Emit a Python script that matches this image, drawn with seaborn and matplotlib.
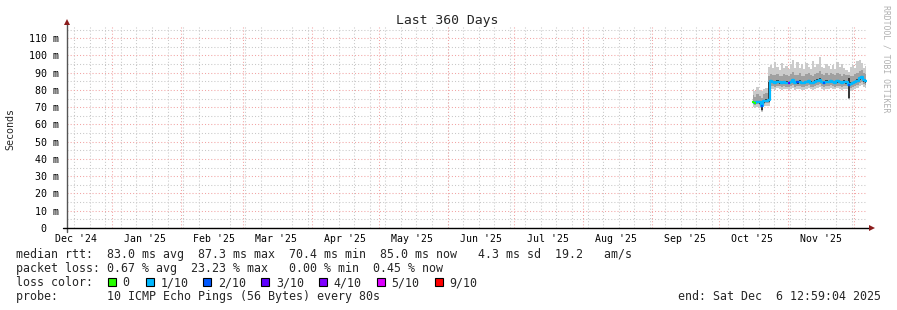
import numpy as np
import pandas as pd
import matplotlib
matplotlib.use("Agg")
import matplotlib.pyplot as plt
import matplotlib.dates as mdates
from matplotlib.ticker import MultipleLocator, FuncFormatter
from matplotlib.patches import Rectangle
import seaborn as sns

# ---------------- data ----------------
dates = pd.date_range("2025-10-16 12:00", periods=52, freq="D")

ping_min = [70.2, 69.8, 70.4, 69.6, 67.5, 70.5, 70.9, 70.5,
            80.8, 80.7, 80.2, 80.9, 80.4, 80.1, 80.6, 80.3,
            80.0, 80.4, 81.3, 80.2, 80.5, 80.8, 80.1, 79.9, 80.5, 81.1,
            80.3, 80.0, 80.7, 81.2, 81.5, 80.6, 80.2, 80.8, 80.5, 81.0,
            80.7, 80.3, 80.9, 80.6, 80.1, 80.7, 80.4, 74.6, 79.5, 80.0,
            80.5, 81.2, 82.4, 83.0, 81.5, 81.0]
ping_p20 = [71.6, 71.2, 71.8, 71.3, 68.0, 71.9, 72.3, 72.4,
            82.6, 82.4, 81.9, 82.5, 82.1, 81.8, 82.3, 82.0,
            81.7, 82.2, 83.0, 81.9, 82.1, 82.5, 81.8, 81.6, 82.2, 82.8,
            82.0, 81.7, 82.4, 82.9, 83.3, 82.3, 81.9, 82.5, 82.2, 82.7,
            82.4, 82.0, 82.6, 82.3, 81.8, 82.4, 82.1, 75.0, 81.2, 81.6,
            82.2, 82.9, 84.2, 84.8, 83.2, 82.7]
ping_p40 = [72.3, 71.9, 72.5, 72.1, 68.4, 72.7, 73.1, 73.2,
            84.2, 83.9, 83.5, 84.1, 83.7, 83.3, 83.9, 83.6,
            83.3, 83.8, 84.8, 83.5, 83.7, 84.2, 83.4, 83.2, 83.9, 84.5,
            83.6, 83.3, 84.1, 84.7, 85.2, 83.9, 83.5, 84.2, 83.8, 84.4,
            84.0, 83.6, 84.3, 83.9, 83.4, 84.1, 83.7, 75.4, 82.9, 83.2,
            83.8, 84.6, 86.0, 86.5, 84.9, 84.3]
median_rtt = [73.0, 72.6, 73.2, 72.8, 70.6, 73.4, 73.8, 74.0,
              85.0, 84.6, 84.2, 84.8, 84.4, 84.0, 84.6, 84.3,
              84.0, 84.5, 85.6, 84.2, 84.4, 84.9, 84.1, 83.9, 84.6, 85.2,
              84.3, 84.0, 84.8, 85.4, 85.9, 84.6, 84.2, 84.9, 84.5, 85.1,
              84.7, 84.3, 85.0, 84.6, 84.1, 84.8, 84.4, 82.8, 83.6, 83.9,
              84.5, 85.3, 86.8, 87.3, 85.6, 85.0]
ping_p60 = [73.7, 73.3, 73.9, 73.5, 72.2, 74.1, 74.5, 84.5,
            85.8, 85.4, 85.0, 85.6, 85.2, 84.8, 85.4, 85.1,
            84.8, 85.3, 86.4, 85.0, 85.2, 85.7, 84.9, 84.7, 85.4, 86.0,
            85.1, 84.8, 85.6, 86.2, 86.7, 85.4, 85.0, 85.7, 85.3, 85.9,
            85.5, 85.1, 85.8, 85.4, 84.9, 85.6, 85.2, 86.9, 84.4, 84.7,
            85.3, 86.1, 87.6, 88.1, 86.4, 85.8]
ping_p80 = [77.0, 76.2, 77.5, 76.8, 75.5, 77.8, 78.2, 88.0,
            89.2, 88.6, 88.9, 89.5, 88.4, 88.1, 89.0, 88.7,
            88.3, 89.1, 90.4, 88.6, 88.9, 89.6, 88.4, 88.2, 89.3, 90.0,
            88.7, 88.2, 89.4, 90.1, 91.0, 89.0, 88.5, 89.6, 88.9, 89.8,
            89.2, 88.6, 89.7, 89.1, 88.3, 89.4, 88.8, 88.5, 88.0, 88.4,
            89.1, 90.0, 91.2, 91.8, 89.9, 89.2]
ping_max = [80.5, 79.2, 81.6, 80.0, 79.4, 80.8, 81.2, 93.5,
            94.5, 92.8, 96.0, 93.2, 91.8, 95.4, 92.6, 94.1,
            92.4, 95.0, 97.3, 93.0, 96.2, 92.7, 94.8, 91.9, 95.6, 93.4,
            92.2, 96.8, 93.5, 94.9, 99.0, 93.1, 92.6, 95.3, 93.9, 92.4,
            94.7, 92.0, 96.4, 93.3, 95.1, 92.8, 91.6, 90.2, 93.5, 94.6,
            92.9, 96.8, 97.2, 95.4, 93.0, 94.2]
loss = [0, 0, 0.2, 0.3, 1.5, 0.4, 0.2, 0.6,
        0.3, 0.5, 0.2, 0.4, 0.3, 0.6, 0.2, 0.4,
        2.6, 0.5, 0.3, 0.4, 1.4, 0.2, 0.5, 0.3, 0.4, 0.6,
        0.3, 0.2, 0.5, 0.4, 0.3, 0.6, 1.3, 0.4, 0.2, 0.5,
        0.3, 0.4, 0.2, 0.5, 0.3, 0.6, 0.4, 1.8, 0.5, 0.3,
        0.4, 0.2, 0.5, 0.3, 0.4, 0.5]

loss_labels = ["0", "1/10", "2/10", "3/10", "4/10", "5/10", "9/10"]
loss_limits = [0, 1, 2, 3, 4, 5, 10]
loss_colors = ["#26ff00", "#00b8ff", "#0059ff", "#5e00ff", "#7e00ff", "#dd00ff", "#ff0000"]

stats_rtt = "median rtt:  83.0 ms avg  87.3 ms max  70.4 ms min  85.0 ms now   4.3 ms sd  19.2   am/s"
stats_loss = "packet loss: 0.67 % avg  23.23 % max   0.00 % min  0.45 % now"
probe_text = "probe:       10 ICMP Echo Pings (56 Bytes) every 80s"
end_text = "end: Sat Dec  6 12:59:04 2025"
title = "Last 360 Days"

t_start = pd.Timestamp("2024-12-11 12:59:04")
t_end = pd.Timestamp("2025-12-06 12:59:04")

# ---------------- figure ----------------
sns.set_theme(style="white")
plt.rcParams['font.family'] = ['DejaVu Sans Mono', 'DejaVu Sans']

W, H = 897, 310
fig = plt.figure(figsize=(W / 100, H / 100), dpi=100)
fig.patch.set_facecolor("white")
ax = fig.add_axes([66.5 / W, (H - 228) / H, 800 / W, 202 / H])
ax.set_facecolor("white")
ax.set_xlim(t_start, t_end)
ax.set_ylim(0, 117.1)

for s in ax.spines.values():
    s.set_visible(False)

# grid
grid_gray = "#c8c8c8"
grid_red = "#f2a4a4"
dots = (0, (1, 2))
ax.yaxis.set_major_locator(MultipleLocator(10))
ax.yaxis.set_minor_locator(MultipleLocator(5))
ax.xaxis.set_major_locator(mdates.MonthLocator(bymonthday=16))
ax.xaxis.set_major_formatter(mdates.DateFormatter("%b '%y"))
ax.xaxis.set_minor_locator(mdates.WeekdayLocator(byweekday=mdates.SU))
ax.set_axisbelow(True)
ax.grid(which="minor", axis="both", color=grid_gray, ls=dots, lw=0.75)
ax.grid(which="major", axis="y", color=grid_red, ls=dots, lw=0.75)
ax.xaxis.grid(False, which="major")
month_starts = pd.date_range("2025-01-01", "2025-12-01", freq="MS")
ax.vlines(month_starts, 0, 117.1, colors=grid_red, linestyles=dots, lw=0.75, zorder=0.6)

ax.yaxis.set_major_formatter(FuncFormatter(lambda v, p: "0  " if v == 0 else f"{int(v)} m"))
ax.tick_params(axis="y", which="both", length=0, pad=5.5, labelsize=7.2, colors="black")
ax.tick_params(axis="x", which="both", length=0, pad=4.0, labelsize=7.1, colors="black")

# smoke
ax.fill_between(dates, ping_min, ping_max, step="mid", color="#cbcbcb", lw=0, zorder=2)
ax.fill_between(dates, ping_p20, ping_p80, step="mid", color="#a0a0a0", lw=0, zorder=2.1)
ax.fill_between(dates, ping_p40, ping_p60, step="mid", color="#383838", lw=0, zorder=2.2)

# median line coloured by loss
sns.lineplot(x=dates, y=median_rtt, ax=ax, color="#00b8ff", lw=1.6,
             drawstyle="steps-mid", zorder=3, legend=False)
half = pd.Timedelta(hours=12)
for d, m, l in zip(dates, median_rtt, loss):
    idx = next(i for i, lim in enumerate(loss_limits) if l <= lim)
    ax.plot([d - half, d + half], [m, m], color=loss_colors[idx], lw=1.6,
            solid_capstyle="butt", zorder=3.1)
ax.set_xlabel("")
ax.set_ylabel("")

# axes lines with arrows
px, py = 1 / 800, 1 / 202
ax.plot([0, 0], [-4 * py, 1 + 2 * py], transform=ax.transAxes, color="#555555",
        lw=1.0, clip_on=False, zorder=5)
ax.plot([-4 * px, 1 + 3 * px], [0, 0], transform=ax.transAxes, color="black",
        lw=1.0, clip_on=False, zorder=5)
ax.plot([0], [1 + 4 * py], marker="^", ms=4.5, color="#8b1c1c", transform=ax.transAxes,
        clip_on=False, zorder=6, mew=0)
ax.plot([1 + 5 * px], [0], marker=">", ms=4.5, color="#8b1c1c", transform=ax.transAxes,
        clip_on=False, zorder=6, mew=0)

# texts
fig.text(447.5 / W, 1 - 24 / H, title, ha="center", va="baseline", fontsize=9.45)
fig.text(10.5 / W, 1 - 129 / H, "Seconds", rotation=90, ha="center", va="center", fontsize=7.2)
fig.text(886 / W, 1 - 5 / H, "RRDTOOL / TOBI OETIKER", rotation=270, ha="center", va="top",
         fontsize=5.9, color="#b0b0b0")

fs = 8.4
fig.text(16 / W, 1 - 258 / H, stats_rtt, ha="left", va="baseline", fontsize=fs)
fig.text(16 / W, 1 - 272 / H, stats_loss, ha="left", va="baseline", fontsize=fs)
fig.text(16 / W, 1 - 286 / H, "loss color:", ha="left", va="baseline", fontsize=fs)
box_x = [108, 145.7, 203.3, 261.3, 319.3, 377, 435]
for bx, lab, col in zip(box_x, loss_labels, loss_colors):
    fig.add_artist(Rectangle((bx / W, 1 - 286 / H), 8 / W, 8 / H, transform=fig.transFigure,
                             facecolor=col, edgecolor="black", lw=0.8))
    fig.text((bx + 14.5) / W, 1 - 286 / H, lab, ha="left", va="baseline", fontsize=fs)
fig.text(16 / W, 1 - 300 / H, probe_text, ha="left", va="baseline", fontsize=fs)
fig.text(881 / W, 1 - 300 / H, end_text, ha="right", va="baseline", fontsize=fs)

fig.savefig("out.png", dpi=100, facecolor="white")
